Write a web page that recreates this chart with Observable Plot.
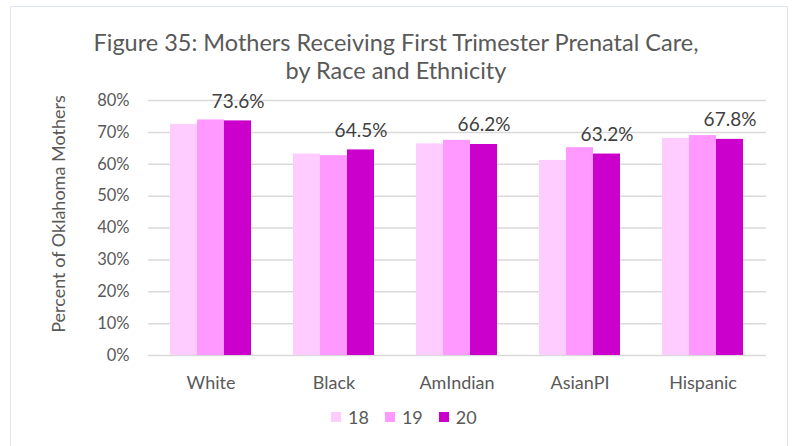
<!DOCTYPE html>
<html>
<head>
<meta charset="utf-8">
<script src="https://cdn.jsdelivr.net/npm/d3@7"></script>
<script src="https://cdn.jsdelivr.net/npm/@observablehq/plot@0.6"></script>
<style>
  html, body { margin: 0; padding: 0; background: #ffffff; }
  #wrap { position: relative; width: 792px; height: 446px; overflow: hidden; font-family: Lato, "Open Sans", sans-serif; }
  #frame { position: absolute; left: 10px; top: 6px; width: 778px; height: 460px; border: 1.5px solid #dfe6f3; box-sizing: border-box; }
  #title { position: absolute; left: 0; width: 792px; top: 28px; text-align: center; font-size: 23.5px; line-height: 28px; color: #595959; }
  #grid, #chart { position: absolute; left: 0; top: 88px; }
  #ytitle { position: absolute; left: 58px; top: 214px; transform: translate(-50%, -50%) rotate(-90deg); white-space: nowrap; font-size: 18px; color: #595959; }
  #legend { position: absolute; left: 331px; top: 406px; display: flex; align-items: center; font-size: 18px; color: #595959; }
  #legend .item { display: flex; align-items: center; margin-right: 16px; }
  #legend .sw { width: 10px; height: 10px; margin-right: 7px; }
</style>
</head>
<body>
<div id="wrap">
  <div id="frame"></div>
  <div id="title">Figure 35: Mothers Receiving First Trimester Prenatal Care,<br>by Race and Ethnicity</div>
  <div id="grid"></div>
  <div id="chart"></div>
  <div id="ytitle">Percent of Oklahoma Mothers</div>
  <div id="legend"></div>
</div>
<script>
const races = ["White", "Black", "AmIndian", "AsianPI", "Hispanic"];
const years = ["18", "19", "20"];
const colors = ["#FFCCFF", "#FF99FF", "#CC00CC"];
const values18 = [72.5, 63.2, 66.4, 61.2, 68.1];
const values19 = [73.9, 62.7, 67.5, 65.2, 69.0];
const values20 = [73.6, 64.5, 66.2, 63.2, 67.8];
const yTicks = [0, 10, 20, 30, 40, 50, 60, 70, 80];

const series = [values18, values19, values20];
const data = [];
races.forEach((r, i) => years.forEach((y, j) => data.push({race: r, year: y, value: series[j][i]})));
const labels = data.filter(d => d.year === "20");

const common = {
  width: 792,
  height: 307,
  marginLeft: 148,
  marginRight: 26,
  marginTop: 12,
  marginBottom: 40,
  style: {fontFamily: "Lato, 'Open Sans', sans-serif", background: "transparent"}
};

const grid = Plot.plot({
  ...common,
  y: {domain: [0, 80], label: null, axis: null},
  marks: [
    Plot.ruleY(yTicks, {stroke: "#d9d9d9", strokeWidth: 1.5}),
    Plot.axisY(yTicks, {tickSize: 0, tickPadding: 19, tickFormat: d => d + "%", fontSize: 16.5, fill: "#595959", label: null})
  ]
});
document.getElementById("grid").appendChild(grid);

const chart = Plot.plot({
  ...common,
  fx: {domain: races, paddingInner: 0.34, paddingOuter: 0.17, label: null},
  x: {domain: years, padding: 0, axis: null},
  y: {domain: [0, 80], label: null, axis: null},
  color: {domain: years, range: colors},
  marks: [
    Plot.axisFx({anchor: "bottom", tickSize: 0, tickPadding: 21, fontSize: 18, fill: "#595959", label: null}),
    Plot.barY(data, {fx: "race", x: "year", y: "value", fill: "year"}),
    Plot.text(labels, {fx: "race", x: "year", y: "value", text: d => d.value.toFixed(1) + "%", lineAnchor: "bottom", dy: -13, fontSize: 19, fill: "#404040"})
  ]
});
document.getElementById("chart").appendChild(chart);

const legend = document.getElementById("legend");
years.forEach((y, i) => {
  const item = document.createElement("div");
  item.className = "item";
  const sw = document.createElement("div");
  sw.className = "sw";
  sw.style.background = colors[i];
  const t = document.createElement("span");
  t.textContent = y;
  item.appendChild(sw);
  item.appendChild(t);
  legend.appendChild(item);
});
</script>
</body>
</html>
